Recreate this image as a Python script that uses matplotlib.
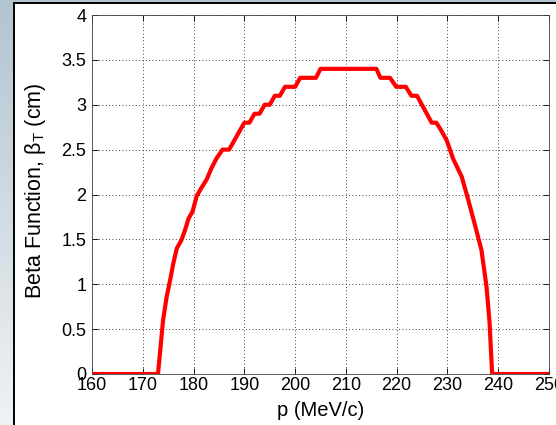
"""
beta function vs momentum, MATLAB style figure on slide background
"""
import numpy as np
import matplotlib as mpl
mpl.use('Agg')
import matplotlib.pyplot as plt
from matplotlib.patches import Rectangle

# data
p_val = [160.0, 173.0, 173.5, 174.0, 174.7, 175.4, 176.0, 176.7, 177.6,
         178.3, 179.0, 179.8, 180.6, 181.3, 182.6, 183.5, 184.5, 185.7,
         187.0, 188.5, 190.0, 191.0, 192.0, 193.0, 194.0, 195.0, 196.0,
         197.0, 198.0, 200.0, 201.0, 204.1, 205.0, 216.0, 216.8, 218.7,
         219.9, 221.8, 222.9, 224.0, 226.9, 227.8, 228.5, 229.8, 230.5,
         231.1, 232.8, 234.1, 235.7, 236.7, 237.7, 238.3, 238.8, 250.0]
beta_val = [0.0, 0.0, 0.30, 0.60, 0.86, 1.05, 1.23, 1.40, 1.49,
            1.60, 1.73, 1.81, 1.98, 2.05, 2.17, 2.29, 2.40, 2.50,
            2.50, 2.65, 2.80, 2.80, 2.90, 2.90, 3.00, 3.00, 3.10,
            3.10, 3.20, 3.20, 3.30, 3.30, 3.40, 3.40, 3.30, 3.30,
            3.20, 3.20, 3.10, 3.10, 2.80, 2.80, 2.74, 2.61, 2.50,
            2.40, 2.20, 1.94, 1.60, 1.38, 0.97, 0.57, 0.0, 0.0]
x_ticks = list(range(160, 251, 10))
y_ticks = [0, 0.5, 1, 1.5, 2, 2.5, 3, 3.5, 4]
y_tick_labels = ['0', '0.5', '1', '1.5', '2', '2.5', '3', '3.5', '4']

## plot
plt.rc('font', family='Liberation Sans')
plt.rc('mathtext', fontset='custom', rm='Liberation Sans',
       it='Liberation Sans:italic')
tick_size = 13
label_size = 14.5
W, H = 556.0, 425.0
# axes box in pixels (from top-left)
ax_l, ax_r, ax_t, ax_b = 92.0, 549.0, 15.0, 374.0

fig = plt.figure(figsize=(W/100.0, H/100.0), dpi=100)

# slide background: vertical blue-grey gradient
bg = fig.add_axes([0, 0, 1, 1])
grad = np.linspace(0.0, 1.0, 256)[:, None]
c_top = np.array([0.70, 0.77, 0.82])
c_bot = np.array([0.94, 0.95, 0.96])
img = c_top[None, None, :] * (1 - grad[:, :, None]) + c_bot[None, None, :] * grad[:, :, None]
bg.imshow(img, aspect='auto', extent=[0, 1, 0, 1])
bg.set_axis_off()
bg.set_zorder(0)

# white figure panel with black border (bottom/right run off the picture)
fig.patches.append(Rectangle((14/W, -10/H), 1.0, 1 + 7/H,
                             transform=fig.transFigure,
                             facecolor='white', edgecolor='black',
                             linewidth=1.4, zorder=1))

ax = fig.add_axes([ax_l/W, (H-ax_b)/H, (ax_r-ax_l)/W, (ax_b-ax_t)/H])
ax.set_zorder(2)
ax.plot(p_val, beta_val, color='red', linewidth=3.0, zorder=3)

ax.set_xlim(160, 250)
ax.set_ylim(0, 4)
ax.set_xticks(x_ticks)
ax.set_yticks(y_ticks)
ax.set_yticklabels(y_tick_labels)
ax.tick_params(direction='in', length=4, width=0.6, top=True, right=True,
               labelsize=tick_size, colors='black')
ax.tick_params(axis='x', pad=2)
ax.tick_params(axis='y', pad=4)
ax.grid(True, linestyle=(0, (1, 3)), color='black', linewidth=0.6)
for sp in ax.spines.values():
    sp.set_linewidth(0.6)
    sp.set_color('#404040')

ax.set_xlabel('p (MeV/c)', fontsize=label_size)
ax.set_ylabel('Beta Function, β$_\\mathrm{T}$ (cm)', fontsize=15.5)
ax.xaxis.set_label_coords(0.5, (ax_b-401)/(ax_b-ax_t))
ax.yaxis.set_label_coords((48-ax_l)/(ax_r-ax_l), 0.51)

plt.savefig('out.png', dpi=100)
